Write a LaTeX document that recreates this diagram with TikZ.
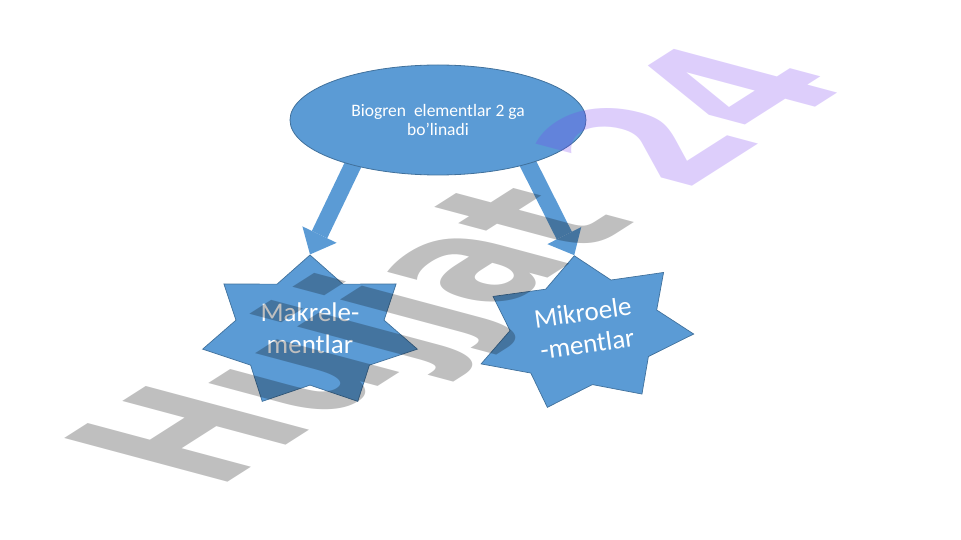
\documentclass[tikz,border=0pt]{standalone}
\usepackage{fontspec}
\setmainfont{Carlito}
\newfontfamily\wmfont{DejaVu Sans}
\usetikzlibrary{shapes.geometric,arrows.meta,backgrounds}
\definecolor{boxblue}{RGB}{91,155,213}
\definecolor{boxedge}{RGB}{65,113,156}
\definecolor{wmpurple}{RGB}{120,60,240}

\begin{document}
\begin{tikzpicture}[x=1pt,y=-1pt,%
		   topic/.style={ellipse,draw=boxedge,fill=boxblue,line width=0.8pt,text=white,align=center,minimum width=296pt,minimum height=110pt,inner sep=0pt,font=\fontsize{17.5}{19.5}\selectfont},
		   burst/.style={star,star points=7,star point ratio=1.45,minimum size=154pt,inner sep=0pt,draw=boxedge,fill=boxblue,line width=0.7pt},
		   bursttext/.style={text=white,align=center,font=\fontsize{27}{32}\selectfont},
		   blockarrow/.style={boxblue,line width=17pt,shorten <=-8pt,-{Triangle[width=38pt,length=22pt,line width=0pt]}},
		   wmark/.style={font=\wmfont\bfseries\fontsize{40}{40}\selectfont,text opacity=0.25,inner sep=0pt,anchor=base west}]
	\useasboundingbox (0,0) rectangle (961,540);

	\node[topic] (ell) at (438,120) {Biogren\ \ elementlar 2 ga\\bo’linadi};

	\foreach \nm/\x/\y/\ang/\txt in {%
		mak/310/332/0/{Makrele-\\mentlar},%
		mik/585/332/8/{Mikroele\\-mentlar}%
	   } { \node[burst,rotate=\ang,xscale=1.43] (\nm) at (\x,\y) {};
	       \node[bursttext,rotate=\ang] (\nm-t) at (\x,\y-4) {\txt};
	   }

	\begin{pgfonlayer}{background}
	    \foreach \nm/\a in {mak/208,mik/-26}
		\draw[blockarrow] (ell.\a) -- (\nm.north);
	\end{pgfonlayer}

	% watermark on top
	\node[wmark,cm={3.12,1.99,-5.6,1.5,(0,0)}] (wm) at (216,490) {Hujjat {\color{wmpurple}24}};
\end{tikzpicture}
\end{document}
